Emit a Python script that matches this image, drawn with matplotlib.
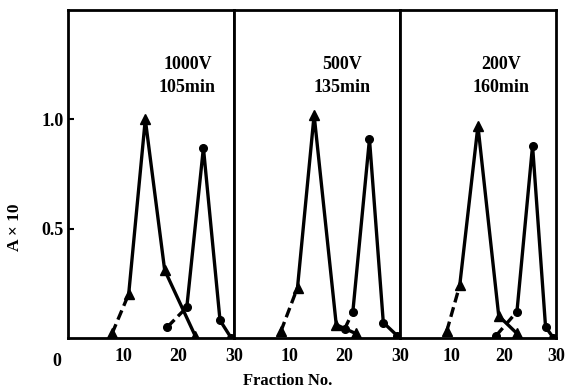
import numpy as np
import matplotlib
matplotlib.use("Agg")
import matplotlib.pyplot as plt

plt.rcParams['font.family'] = ['Liberation Serif', 'DejaVu Serif']

# run conditions, one panel each
labels = ["1000V\n105min", "500V\n135min", "200V\n160min"]
label_x = [0.72, 0.65, 0.65]

# triangle peak (fraction no., A x 10)
tri_x = [[8, 11, 14, 17.5, 23],
         [8.5, 11.5, 14.5, 18.5, 22],
         [9, 11.5, 15, 19, 22.5]]
tri_y = [[0.02, 0.20, 1.00, 0.31, 0.01],
         [0.03, 0.23, 1.02, 0.06, 0.02],
         [0.03, 0.24, 0.97, 0.10, 0.02]]

# circle peak
cir_x = [[18, 21.5, 24.5, 27.5, 29.5],
         [20, 21.5, 24.5, 27, 29.5],
         [18.5, 22.5, 25.5, 28, 29.5]]
cir_y = [[0.05, 0.14, 0.87, 0.08, 0.00],
         [0.04, 0.12, 0.91, 0.07, 0.01],
         [0.01, 0.12, 0.88, 0.05, 0.00]]

fig = plt.figure(figsize=(5.65, 3.91), dpi=100)
gs = fig.add_gridspec(1, 3, left=0.120, right=0.984, bottom=0.136, top=0.974,
                      wspace=0, width_ratios=[166, 166, 156])
axes = [fig.add_subplot(gs[0, i]) for i in range(3)]

for i, ax in enumerate(axes):
    # rising foot drawn dashed like the original trace
    ax.plot(tri_x[i][:2], tri_y[i][:2], color='black', lw=2.4, ls=(0, (3, 1.5)))
    ax.plot(tri_x[i][1:], tri_y[i][1:], color='black', lw=2.4)
    ax.plot(tri_x[i], tri_y[i], color='black', lw=0, marker='^', ms=6.5)
    ax.plot(cir_x[i][:2], cir_y[i][:2], color='black', lw=2.4, ls=(0, (3, 1.5)))
    ax.plot(cir_x[i][1:], cir_y[i][1:], color='black', lw=2.4)
    ax.plot(cir_x[i], cir_y[i], color='black', lw=0, marker='o', ms=5.5)
    ax.set_xlim(0, 30)
    ax.set_ylim(0, 1.5)
    ax.set_xticks([10, 20, 30])
    ax.tick_params(axis='x', length=0, pad=7, labelsize=13)
    for lab in ax.get_xticklabels():
        lab.set_fontweight('bold')
    for s in ax.spines.values():
        s.set_linewidth(2)
    ax.text(label_x[i], 0.80, labels[i], transform=ax.transAxes, fontsize=13,
            fontweight='bold', ha='center', va='center', linespacing=1.45)
    if i == 0:
        ax.set_yticks([0.5, 1.0])
        ax.set_yticklabels(['0.5', '1.0'], fontweight='bold', fontsize=13)
        ax.tick_params(axis='y', direction='in', length=4, width=1.5, pad=3)
        ax.text(-2, -0.07, '0', ha='center', va='top', fontsize=13,
                fontweight='bold')
    else:
        ax.set_yticks([])

fig.text(0.027, 0.42, 'A × 10', rotation=90, ha='center', va='center',
         fontsize=12.5, fontweight='bold')
fig.text(0.51, 0.025, 'Fraction No.', ha='center', va='center',
         fontsize=12, fontweight='bold')

plt.savefig('out.png', dpi=100)
